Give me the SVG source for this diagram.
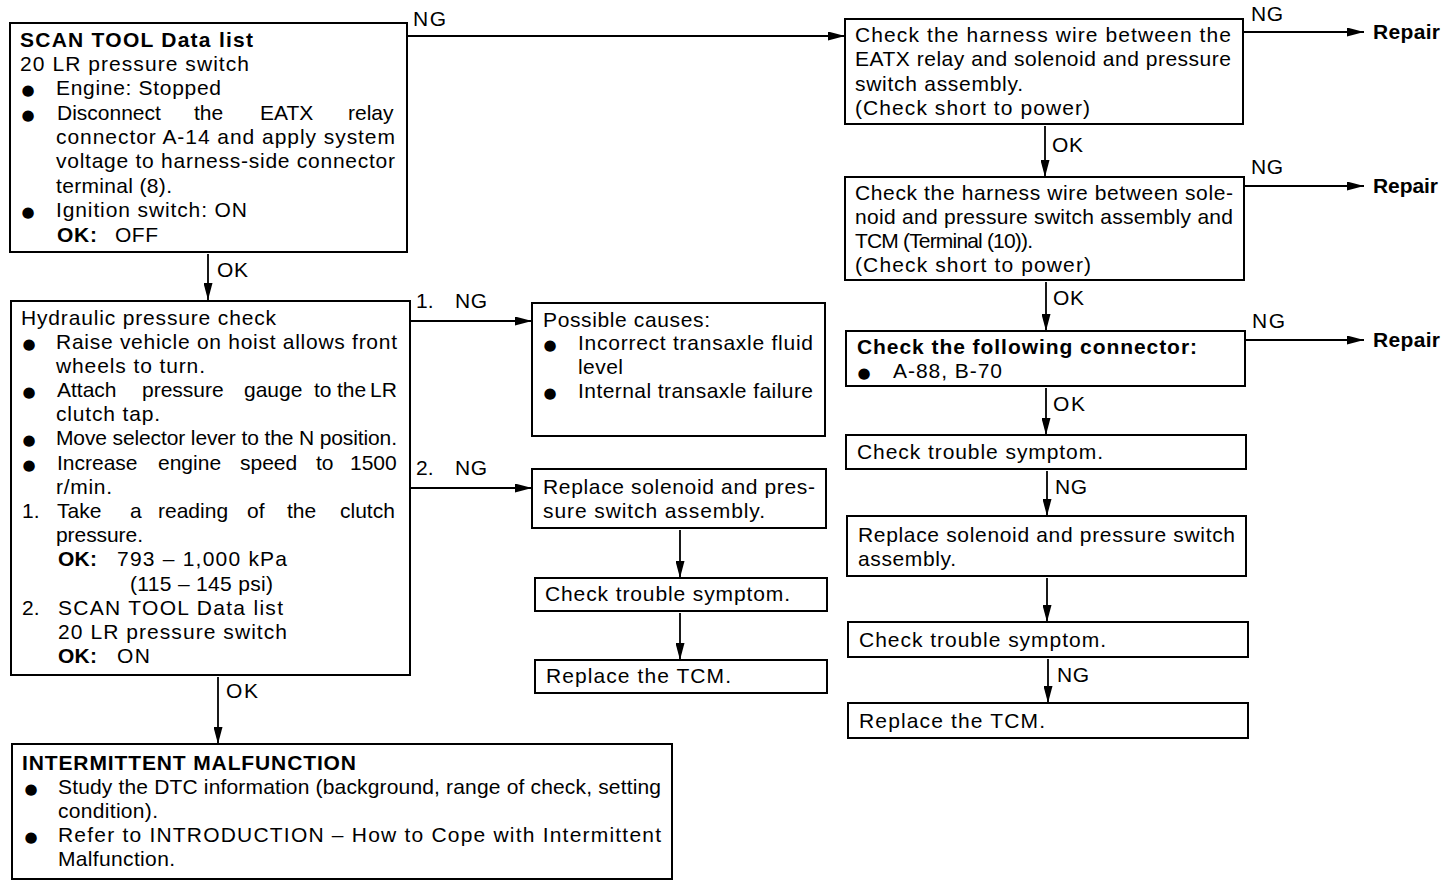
<svg xmlns="http://www.w3.org/2000/svg" width="1456" height="886" viewBox="0 0 1456 886">
<style>
text{font-family:"Liberation Sans",Arial,sans-serif;font-size:21px;fill:#000}
.b{font-weight:bold}
.bu{font-family:"DejaVu Sans",sans-serif;font-size:15px;text-anchor:middle}
.box{fill:#fff;stroke:#000;stroke-width:2}
.c{fill:none;stroke:#000;stroke-width:1.8}
</style>
<defs>
<marker id="ah" markerUnits="userSpaceOnUse" markerWidth="17" markerHeight="9" refX="17" refY="4.5" orient="auto">
<path d="M0,0 L17,4.5 L0,9 z" fill="#000"/>
</marker>
</defs>
<rect width="1456" height="886" fill="#fff"/>

<g id="connectors">
<path class="c" d="M407,36 H845" marker-end="url(#ah)"/>
<path class="c" d="M208,254 V300" marker-end="url(#ah)"/>
<path class="c" d="M410,321 H532" marker-end="url(#ah)"/>
<path class="c" d="M410,488 H532" marker-end="url(#ah)"/>
<path class="c" d="M680,530 V578" marker-end="url(#ah)"/>
<path class="c" d="M680,613 V660" marker-end="url(#ah)"/>
<path class="c" d="M218,677 V744" marker-end="url(#ah)"/>
<path class="c" d="M1243,32 H1364" marker-end="url(#ah)"/>
<path class="c" d="M1244,186 H1364" marker-end="url(#ah)"/>
<path class="c" d="M1245,340 H1364" marker-end="url(#ah)"/>
<path class="c" d="M1045,126 V177" marker-end="url(#ah)"/>
<path class="c" d="M1046,282 V331" marker-end="url(#ah)"/>
<path class="c" d="M1046,388 V435" marker-end="url(#ah)"/>
<path class="c" d="M1047,471 V516" marker-end="url(#ah)"/>
<path class="c" d="M1047,578 V622" marker-end="url(#ah)"/>
<path class="c" d="M1048,659 V703" marker-end="url(#ah)"/>
<text x="413" y="26" textLength="33">NG</text>
<text x="217" y="277" textLength="31">OK</text>
<text x="416" y="308">1.</text><text x="455" y="308" textLength="32">NG</text>
<text x="416" y="475">2.</text><text x="455" y="475" textLength="32">NG</text>
<text x="226" y="698" textLength="32">OK</text>
<text x="1251" y="21" textLength="32">NG</text>
<text x="1251" y="174" textLength="32">NG</text>
<text x="1252" y="328" textLength="33">NG</text>
<text x="1052" y="152" textLength="31">OK</text>
<text x="1053" y="305" textLength="31">OK</text>
<text x="1053" y="411" textLength="32">OK</text>
<text x="1055" y="494" textLength="32">NG</text>
<text x="1057" y="682" textLength="32">NG</text>
</g>

<g id="n-scan">
<rect class="box" x="10" y="23" width="397" height="229"/>
<text class="b" x="20" y="47" textLength="233">SCAN TOOL Data list</text>
<text x="20" y="71" textLength="229">20 LR pressure switch</text>
<text class="bu" x="28" y="95">●</text>
<text x="56" y="95" textLength="165">Engine: Stopped</text>
<text class="bu" x="28" y="120">●</text>
<text y="120"><tspan x="57">Disconnect</tspan><tspan x="194">the</tspan><tspan x="260">EATX</tspan><tspan x="348">relay</tspan></text>
<text x="56" y="144" textLength="339">connector A-14 and apply system</text>
<text x="56" y="168" textLength="339">voltage to harness-side connector</text>
<text x="56" y="193" textLength="116">terminal (8).</text>
<text class="bu" x="28" y="217">●</text>
<text x="56" y="217" textLength="191">Ignition switch: ON</text>
<text class="b" x="57" y="242" textLength="40">OK:</text>
<text x="115" y="242" textLength="43">OFF</text>
</g>

<g id="n-hydraulic">
<rect class="box" x="11" y="301" width="399" height="374"/>
<text x="21" y="325" textLength="255">Hydraulic pressure check</text>
<text class="bu" x="29" y="349">●</text>
<text x="56" y="349" textLength="341">Raise vehicle on hoist allows front</text>
<text x="56" y="373" textLength="149">wheels to turn.</text>
<text class="bu" x="29" y="397">●</text>
<text y="397"><tspan x="57">Attach</tspan><tspan x="142">pressure</tspan><tspan x="244">gauge</tspan><tspan x="314">to</tspan><tspan x="337">the</tspan><tspan x="370">LR</tspan></text>
<text x="56" y="421" textLength="104">clutch tap.</text>
<text class="bu" x="29" y="445">●</text>
<text x="56" y="445" textLength="341">Move selector lever to the N position.</text>
<text class="bu" x="29" y="470">●</text>
<text y="470"><tspan x="57">Increase</tspan><tspan x="158">engine</tspan><tspan x="240">speed</tspan><tspan x="316">to</tspan><tspan x="350">1500</tspan></text>
<text x="56" y="494" textLength="56">r/min.</text>
<text x="22" y="518">1.</text>
<text y="518"><tspan x="57">Take</tspan><tspan x="130">a</tspan><tspan x="158">reading</tspan><tspan x="247">of</tspan><tspan x="287">the</tspan><tspan x="340">clutch</tspan></text>
<text x="56" y="542" textLength="87">pressure.</text>
<text class="b" x="58" y="566" textLength="39">OK:</text>
<text x="117" y="566" textLength="170">793 – 1,000 kPa</text>
<text x="130" y="591" textLength="143">(115 – 145 psi)</text>
<text x="22" y="615">2.</text>
<text x="58" y="615" textLength="225">SCAN TOOL Data list</text>
<text x="58" y="639" textLength="229">20 LR pressure switch</text>
<text class="b" x="58" y="663" textLength="39">OK:</text>
<text x="117" y="663" textLength="33">ON</text>
</g>

<g id="n-causes">
<rect class="box" x="532" y="303" width="293" height="133"/>
<text x="543" y="327" textLength="167">Possible causes:</text>
<text class="bu" x="550" y="350">●</text>
<text x="578" y="350" textLength="235">Incorrect transaxle fluid</text>
<text x="578" y="374" textLength="45">level</text>
<text class="bu" x="550" y="398">●</text>
<text x="578" y="398" textLength="235">Internal transaxle failure</text>
</g>

<g id="n-replace1">
<rect class="box" x="532" y="469" width="294" height="59"/>
<text x="543" y="494" textLength="272">Replace solenoid and pres-</text>
<text x="543" y="518" textLength="222">sure switch assembly.</text>
</g>

<g id="n-check1">
<rect class="box" x="535" y="578" width="292" height="33"/>
<text x="545" y="601" textLength="245">Check trouble symptom.</text>
</g>

<g id="n-tcm1">
<rect class="box" x="535" y="660" width="292" height="33"/>
<text x="546" y="683" textLength="185">Replace the TCM.</text>
</g>

<g id="n-intermittent">
<rect class="box" x="12" y="744" width="660" height="135"/>
<text class="b" x="22" y="770" textLength="334">INTERMITTENT MALFUNCTION</text>
<text class="bu" x="31" y="794">●</text>
<text x="58" y="794" textLength="603">Study the DTC information (background, range of check, setting</text>
<text x="58" y="818" textLength="100">condition).</text>
<text class="bu" x="31" y="842">●</text>
<text x="58" y="842" textLength="603">Refer to INTRODUCTION – How to Cope with Intermittent</text>
<text x="58" y="866" textLength="117">Malfunction.</text>
</g>

<g id="n-harness1">
<rect class="box" x="845" y="19" width="398" height="105"/>
<text x="855" y="42" textLength="376">Check the harness wire between the</text>
<text x="855" y="66" textLength="376">EATX relay and solenoid and pressure</text>
<text x="855" y="91" textLength="168">switch assembly.</text>
<text x="855" y="115" textLength="235">(Check short to power)</text>
</g>

<g id="n-harness2">
<rect class="box" x="845" y="177" width="399" height="103"/>
<text x="855" y="200" textLength="378">Check the harness wire between sole-</text>
<text x="855" y="224" textLength="378">noid and pressure switch assembly and</text>
<text x="855" y="248" textLength="178">TCM (Terminal (10)).</text>
<text x="855" y="272" textLength="236">(Check short to power)</text>
</g>

<g id="n-connector">
<rect class="box" x="846" y="331" width="399" height="55"/>
<text class="b" x="857" y="354" textLength="340">Check the following connector:</text>
<text class="bu" x="864" y="378">●</text>
<text x="893" y="378" textLength="109">A-88, B-70</text>
</g>

<g id="n-check2">
<rect class="box" x="846" y="435" width="400" height="34"/>
<text x="857" y="459" textLength="246">Check trouble symptom.</text>
</g>

<g id="n-replace2">
<rect class="box" x="847" y="516" width="399" height="60"/>
<text x="858" y="542" textLength="377">Replace solenoid and pressure switch</text>
<text x="858" y="566" textLength="98">assembly.</text>
</g>

<g id="n-check3">
<rect class="box" x="848" y="622" width="400" height="35"/>
<text x="859" y="647" textLength="247">Check trouble symptom.</text>
</g>

<g id="n-tcm2">
<rect class="box" x="848" y="703" width="400" height="35"/>
<text x="859" y="728" textLength="186">Replace the TCM.</text>
</g>

<g id="n-repair1"><text class="b" x="1373" y="39" textLength="67">Repair</text></g>
<g id="n-repair2"><text class="b" x="1373" y="193" textLength="65">Repair</text></g>
<g id="n-repair3"><text class="b" x="1373" y="347" textLength="67">Repair</text></g>
</svg>
